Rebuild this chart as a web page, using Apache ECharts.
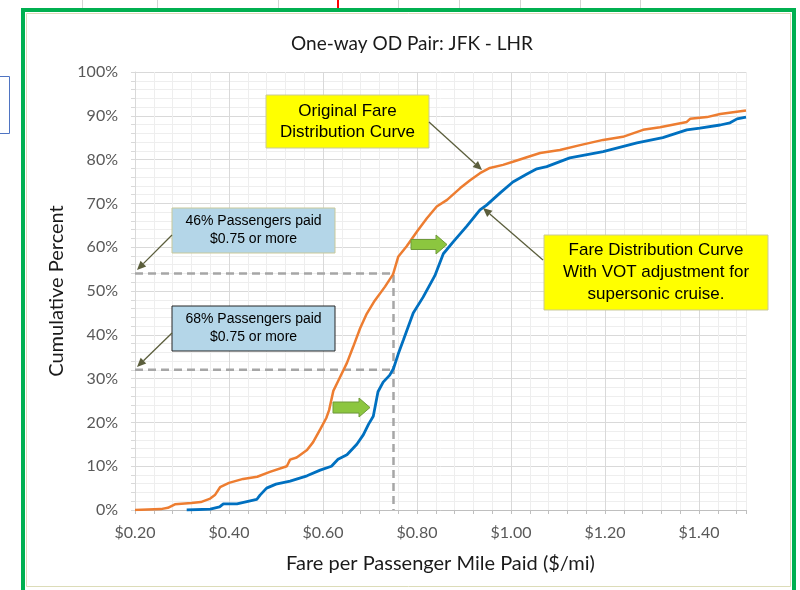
<!DOCTYPE html>
<html>
<head>
<meta charset="utf-8">
<script src="https://cdn.jsdelivr.net/npm/echarts@6/dist/echarts.min.js"></script>
<style>
html,body{margin:0;padding:0;background:#fff;}
#main{width:800px;height:590px;}
</style>
</head>
<body>
<div id="main"></div>
<script>
// ---- data ----
const chartTitle = 'One-way OD Pair: JFK - LHR';
const xAxisName = 'Fare per Passenger Mile Paid ($/mi)';
const yAxisName = 'Cumulative Percent';

// Original fare distribution curve (orange)
const origFare = [0.20,0.255,0.27,0.285,0.32,0.34,0.36,0.37,0.381,0.40,0.43,0.46,0.487,0.523,0.530,0.544,0.566,0.579,0.594,0.607,0.613,0.622,0.632,0.651,0.664,0.679,0.693,0.71,0.732,0.749,0.760,0.778,0.80,0.821,0.842,0.864,0.892,0.913,0.934,0.955,0.983,1.004,1.047,1.062,1.104,1.147,1.196,1.238,1.281,1.317,1.374,1.381,1.417,1.445,1.50];
const origPct  = [0,0.2,0.5,1.3,1.6,1.8,2.6,3.4,5.2,6.2,7.1,7.6,8.7,10.0,11.5,12.0,13.7,15.5,18.4,21.0,22.8,27.2,29.4,33.6,37.2,41.5,44.8,47.8,51.0,53.8,57.8,60.2,63.6,66.6,69.3,70.8,73.5,75.3,76.9,78.1,78.8,79.5,81.0,81.5,82.2,83.3,84.5,85.2,86.8,87.4,88.6,89.3,89.7,90.4,91.2];

// Fare distribution curve with VOT adjustment (blue)
const votFare = [0.31,0.36,0.38,0.388,0.417,0.438,0.459,0.466,0.48,0.50,0.53,0.566,0.594,0.618,0.632,0.651,0.672,0.686,0.697,0.707,0.717,0.728,0.742,0.75,0.76,0.771,0.792,0.813,0.838,0.856,0.877,0.906,0.934,0.948,0.977,1.004,1.034,1.055,1.076,1.125,1.196,1.268,1.323,1.374,1.402,1.445,1.466,1.481,1.50];
const votPct  = [0,0.2,0.7,1.4,1.4,1.9,2.4,3.4,5.0,5.9,6.6,7.8,9.1,10.0,11.6,12.6,15.0,17.2,19.6,21.4,27.0,29.2,30.8,32.3,35.6,38.8,45.0,48.6,53.5,58.5,61.2,64.8,68.5,69.6,72.4,74.9,76.7,77.9,78.4,80.4,81.8,83.8,85.0,86.8,87.2,87.9,88.4,89.3,89.7];

// reference levels
const refFare = 0.75;
const refPctOrig = 54;
const refPctVot = 32;

// axis ticks
const xMin = 0.2, xMax = 1.5, xMajor = 0.2, xMinor = 0.04;
const yMin = 0, yMax = 100, yMajor = 10, yMinor = 2;

// annotation texts
const noteOrig = 'Original Fare\nDistribution Curve';
const noteVot = 'Fare Distribution Curve\nWith VOT adjustment for\nsupersonic cruise.';
const noteOrigPaid = '46% Passengers paid\n$0.75 or more';
const noteVotPaid = '68% Passengers paid\n$0.75 or more';

// ---- chart ----
const origData = origFare.map((f, i) => [f, origPct[i]]);
const votData = votFare.map((f, i) => [f, votPct[i]]);
const refLineOrig = [[xMin, refPctOrig], [refFare, refPctOrig], [refFare, yMin]];
const refLineVot = [[xMin, refPctVot], [refFare, refPctVot]];

const isMult = (v, m) => Math.abs(v / m - Math.round(v / m)) < 1e-6;
const majorC = '#d9d9d9', minorC = '#eeeeee';
const axisFont = 'Lato, "Noto Sans", sans-serif';
const noteFont = '"Liberation Sans", Arial, sans-serif';
const arrowC = '#5b5e3c';

function arrow(x1, y1, x2, y2) {
  const a = Math.atan2(y2 - y1, x2 - x1);
  const L = 9, W = 4;
  const bx = x2 - L * Math.cos(a), by = y2 - L * Math.sin(a);
  const px = -Math.sin(a) * W, py = Math.cos(a) * W;
  return [
    { type: 'line', z: 50, shape: { x1, y1, x2: bx, y2: by }, style: { stroke: arrowC, lineWidth: 1.3 } },
    { type: 'polygon', z: 50, shape: { points: [[x2, y2], [bx + px, by + py], [bx - px, by - py]] }, style: { fill: arrowC } }
  ];
}
function blockArrow(x, y, w, h, shaftH, headW) {
  const cy = y + h / 2, s = shaftH / 2, hx = x + w - headW;
  return {
    type: 'polygon', z: 50,
    shape: { points: [[x, cy - s], [hx, cy - s], [hx, y], [x + w, cy], [hx, y + h], [hx, cy + s], [x, cy + s]] },
    style: { fill: '#8cc63f', stroke: '#6f9a3a', lineWidth: 1 }
  };
}
function note(x, y, w, h, text, fill, stroke, fontSize, lh) {
  return [
    { type: 'rect', z: 50, shape: { x, y, width: w, height: h }, style: { fill, stroke, lineWidth: 1 } },
    { type: 'text', z: 51, x: x + w / 2, y: y + h / 2,
      style: { text, fill: '#000', font: fontSize + 'px ' + noteFont, align: 'center', verticalAlign: 'middle', lineHeight: lh } }
  ];
}

const graphics = [
  // outer frame
  { type: 'rect', z: 1, shape: { x: 23, y: 10, width: 771, height: 600 }, style: { fill: 'none', stroke: '#00b050', lineWidth: 4 } },
  { type: 'rect', z: 1, shape: { x: 26.5, y: 13.5, width: 764, height: 573 }, style: { fill: 'none', stroke: '#dcdcb8', lineWidth: 1 } },
  { type: 'rect', z: 1, shape: { x: -2, y: 76.5, width: 11.5, height: 57 }, style: { fill: 'none', stroke: '#4f74c2', lineWidth: 1 } },
  ...[82, 157, 278, 398, 459, 520, 580, 640].map(x => ({ type: 'line', z: 1, shape: { x1: x + 0.5, y1: 0, x2: x + 0.5, y2: 8 }, style: { stroke: '#d4d4d4', lineWidth: 1 } })),
  { type: 'line', z: 1, shape: { x1: 338, y1: 0, x2: 338, y2: 8 }, style: { stroke: '#ff0000', lineWidth: 2 } },
  // annotations
  ...note(266, 95, 163, 53, noteOrig, '#ffff00', '#c9c99a', 17, 21),
  ...note(544, 235, 224, 75, noteVot, '#ffff00', '#c9c99a', 17, 22),
  ...note(172, 208, 163, 45, noteOrigPaid, '#b4d6e8', '#c9c99a', 14, 18),
  ...note(172, 306, 163, 45, noteVotPaid, '#b4d6e8', '#262626', 14, 18),
  ...arrow(429, 122, 482, 170),
  ...arrow(543, 260, 483, 208),
  ...arrow(172, 235, 137, 270),
  ...arrow(172, 333, 137, 367),
  blockArrow(411, 235, 36, 19, 10, 11),
  blockArrow(333, 398, 37, 19, 11, 11)
];

const chart = echarts.init(document.getElementById('main'), null, { renderer: 'canvas' });
chart.setOption({
  backgroundColor: '#fff',
  animation: false,
  title: {
    text: chartTitle, left: 407, textAlign: 'center', top: 29,
    textStyle: { fontFamily: axisFont, fontSize: 19, fontWeight: 'normal', color: '#1a1a1a' }
  },
  grid: { left: 135, right: 54, top: 72, bottom: 80 },
  xAxis: {
    type: 'value', min: xMin, max: xMax, interval: xMinor,
    name: xAxisName, nameLocation: 'middle', nameGap: 44,
    nameTextStyle: { fontFamily: axisFont, fontSize: 20, color: '#1a1a1a' },
    axisLine: { show: true, lineStyle: { color: '#bfbfbf', width: 1 } },
    axisTick: { show: true, length: 4, lineStyle: { color: '#bfbfbf' } },
    axisLabel: {
      margin: 15, color: '#595959', fontFamily: axisFont, fontSize: 16,
      formatter: v => isMult(v, xMajor) ? '$' + v.toFixed(2) : ''
    },
    splitLine: { show: true, lineStyle: { color: [majorC, minorC, minorC, minorC, minorC], width: 1 } }
  },
  yAxis: {
    type: 'value', min: yMin, max: yMax, interval: yMinor,
    name: yAxisName, nameLocation: 'middle', nameGap: 60,
    nameTextStyle: { fontFamily: axisFont, fontSize: 20, color: '#1a1a1a' },
    axisLine: { show: true, lineStyle: { color: '#d9d9d9', width: 1 } },
    axisTick: { show: true, length: 4, lineStyle: { color: '#d9d9d9' } },
    axisLabel: {
      margin: 17, color: '#595959', fontFamily: axisFont, fontSize: 16,
      formatter: v => isMult(v, yMajor) ? v + '%' : ''
    },
    splitLine: { show: true, lineStyle: { color: [majorC, minorC, minorC, minorC, minorC], width: 1 } }
  },
  series: [
    { name: 'ref46', type: 'line', data: refLineOrig, symbol: 'none', z: 3,
      lineStyle: { color: '#a6a6a6', width: 2.5, type: [8, 5] } },
    { name: 'ref68', type: 'line', data: refLineVot, symbol: 'none', z: 3,
      lineStyle: { color: '#a6a6a6', width: 2.5, type: [8, 5] } },
    { name: 'Original', type: 'line', data: origData, symbol: 'none', z: 4,
      lineStyle: { color: '#ed7d31', width: 2.5 } },
    { name: 'VOT', type: 'line', data: votData, symbol: 'none', z: 5,
      lineStyle: { color: '#0070c0', width: 2.8 } }
  ],
  graphic: graphics
});
</script>
</body>
</html>
